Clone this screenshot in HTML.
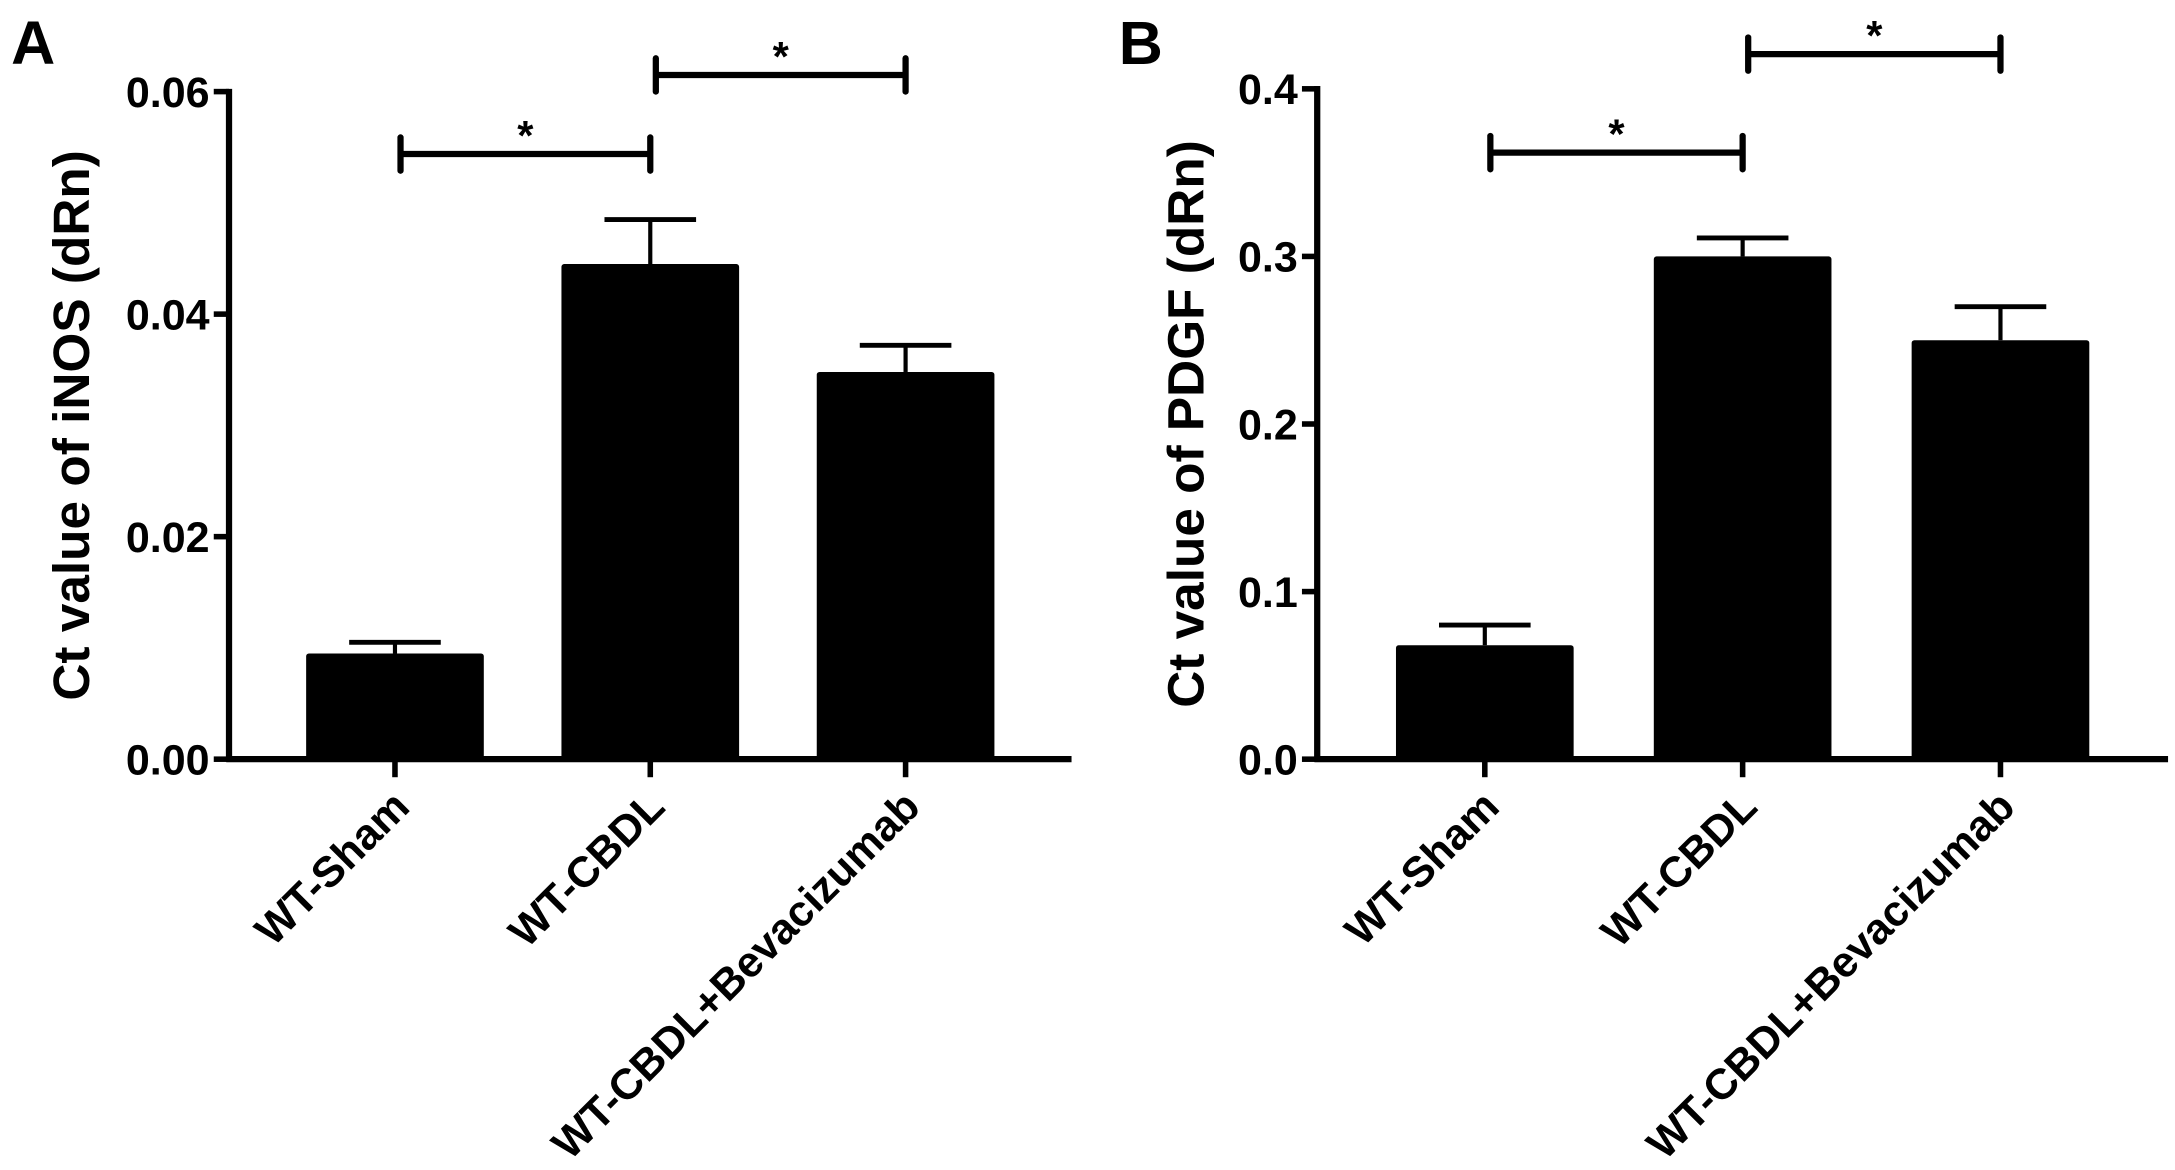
<!DOCTYPE html>
<html><head><meta charset="utf-8"><style>
html,body{margin:0;padding:0;background:#fff;}
svg{display:block;}
text{font-family:"Liberation Sans",Arial,sans-serif;font-weight:bold;fill:#000;}
</style></head><body>
<svg id="chart" xmlns="http://www.w3.org/2000/svg" width="2175" height="1170" viewBox="0 0 1567 843" preserveAspectRatio="none">
<rect width="1567" height="843" fill="#fff"/>
</svg>
<script>
const categories = ["WT-Sham","WT-CBDL","WT-CBDL+Bevacizumab"];
const inosValues = [0.0095, 0.0445, 0.0348];
const inosErrors = [0.0010, 0.0040, 0.0024];
const inosTicks = [0, 0.02, 0.04, 0.06];
const inosTickLabels = ["0.00","0.02","0.04","0.06"];
const pdgfValues = [0.068, 0.300, 0.250];
const pdgfErrors = [0.012, 0.011, 0.020];
const pdgfTicks = [0, 0.1, 0.2, 0.3, 0.4];
const pdgfTickLabels = ["0.0","0.1","0.2","0.3","0.4"];
const sigPairs = [[0,1],[1,2]];
const sigLabels = ["*","*"];

const NS = "http://www.w3.org/2000/svg";
const svg = document.getElementById("chart");
function mk(tag, attrs, parent){
  const e = document.createElementNS(NS, tag);
  for (const k in attrs) e.setAttribute(k, attrs[k]);
  (parent||svg).appendChild(e);
  return e;
}

function panel(cfg){
  const g = mk("g", {});
  
  
  const y = v => cfg.y0 - (v - 0) / cfg.max * (cfg.y0 - cfg.yTop);
  const step = (cfg.xEnd - cfg.x0) / 3.3;
  const cx = i => cfg.x0 + step * (0.65 + i);
  const bw = 128;

  const letter = mk("text", {x: cfg.letterX, y: 46, "font-size": 44}, g);
  letter.textContent = cfg.letter;
  
  

  const ya = mk("line", {x1: cfg.x0, y1: cfg.yTop - 2, x2: cfg.x0, y2: cfg.y0 + 2, stroke: "#000", "stroke-width": 4.5}, g);
  
  
  const xa = mk("line", {x1: cfg.x0 - 2, y1: cfg.y0, x2: cfg.xEnd, y2: cfg.y0, stroke: "#000", "stroke-width": 4.5}, g);
  
  

  cfg.ticks.forEach((t, i) => {
    const ty = y(t);
    const tl = mk("line", {x1: cfg.x0 - 11, y1: ty, x2: cfg.x0, y2: ty, stroke: "#000", "stroke-width": 4}, g);
    
    
    const tx = mk("text", {x: cfg.x0 - 14, y: ty + 11, "font-size": 31, "text-anchor": "end"}, g);
    tx.textContent = cfg.tickLabels[i];
    
    
  });

  const yl = mk("text", {x: 0, y: 0, "font-size": 37, "text-anchor": "middle", transform: `translate(${cfg.labelX},${(cfg.yTop+cfg.y0)/2}) rotate(-90)`}, g);
  yl.textContent = cfg.yTitle;
  
  

  categories.forEach((c, i) => {
    const x = cx(i);
    const top = y(cfg.values[i]);
    const eTop = y(cfg.values[i] + cfg.errors[i]);
    const el = mk("line", {x1: x, y1: top, x2: x, y2: eTop, stroke: "#000", "stroke-width": 3}, g);
    
    
    const cap = mk("line", {x1: x - 33, y1: eTop, x2: x + 33, y2: eTop, stroke: "#000", "stroke-width": 3.5}, g);
    
    
    const b = mk("rect", {x: x - bw/2, y: top, width: bw, height: cfg.y0 - top, fill: "#000", rx: 2}, g);
    
    
    const xt = mk("line", {x1: x, y1: cfg.y0, x2: x, y2: cfg.y0 + 13, stroke: "#000", "stroke-width": 4}, g);
    
    
    const lab = mk("text", {x: 0, y: 0, "font-size": 31, "text-anchor": "end", transform: `translate(${x+12},${cfg.y0+36}) rotate(-45)`}, g);
    lab.textContent = c;
    
    
  });

  sigPairs.forEach((p, k) => {
    const sy = cfg.sigY[k];
    const x1 = cx(p[0]) + 4, x2 = cx(p[1]);
    const sg = mk("g", {}, g);
    
    
    mk("line", {x1: x1, y1: sy, x2: x2, y2: sy, stroke: "#000", "stroke-width": 4.5}, sg);
    mk("line", {x1: x1, y1: sy - 12, x2: x1, y2: sy + 12, stroke: "#000", "stroke-width": 4.5, "stroke-linecap": "round"}, sg);
    mk("line", {x1: x2, y1: sy - 12, x2: x2, y2: sy + 12, stroke: "#000", "stroke-width": 4.5, "stroke-linecap": "round"}, sg);
    const st = mk("text", {x: (x1 + x2)/2, y: sy - 3, "font-size": 30, "text-anchor": "middle"}, sg);
    st.textContent = sigLabels[k];
    
    
  });
}

panel({id: "inos", letter: "A", letterX: 8, x0: 165, xEnd: 772, y0: 547, yTop: 66, max: 0.06,
  ticks: inosTicks, tickLabels: inosTickLabels, values: inosValues, errors: inosErrors,
  yTitle: "Ct value of iNOS (dRn)", labelX: 64, sigY: [111, 54]});
panel({id: "pdgf", letter: "B", letterX: 806, x0: 949, xEnd: 1562, y0: 547, yTop: 64, max: 0.4,
  ticks: pdgfTicks, tickLabels: pdgfTickLabels, values: pdgfValues, errors: pdgfErrors,
  yTitle: "Ct value of PDGF (dRn)", labelX: 867, sigY: [110, 39]});
</script>
</body></html>
